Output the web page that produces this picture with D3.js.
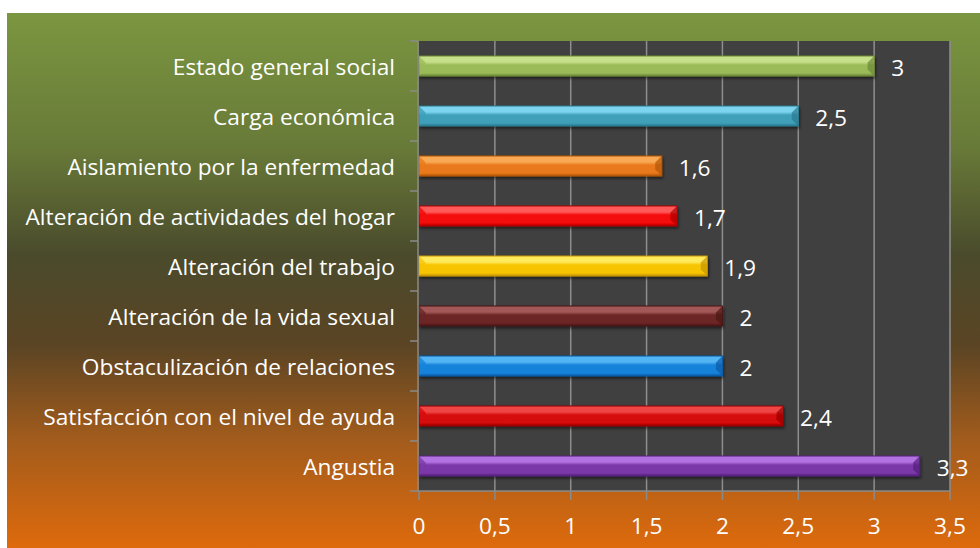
<!DOCTYPE html>
<html>
<head>
<meta charset="utf-8">
<script src="https://cdn.jsdelivr.net/npm/d3@7"></script>
<style>
  body { margin: 0; background: #fff; }
  svg { display: block; }
  text { font-family: "Open Sans", Lato, sans-serif; fill: #fff; }
</style>
</head>
<body>
<svg id="chart" width="980" height="548"></svg>
<script>
// data, top to bottom as in the chart
const categories = [
  "Estado general social",
  "Carga económica",
  "Aislamiento por la enfermedad",
  "Alteración de actividades del hogar",
  "Alteración del trabajo",
  "Alteración de la vida sexual",
  "Obstaculización de relaciones",
  "Satisfacción con el nivel de ayuda",
  "Angustia"
];
const values = [3, 2.5, 1.6, 1.7, 1.9, 2, 2, 2.4, 3.3];
const xTicks = [0, 0.5, 1, 1.5, 2, 2.5, 3, 3.5];
// [main, light, dark] per bar
const barColors = [
  ["#9bbb59", "#c6df8a", "#6c8834"],
  ["#3fa0ba", "#7bd4ee", "#2a788e"],
  ["#e8791c", "#f9a852", "#b35606"],
  ["#f40808", "#ff5a5a", "#ae0000"],
  ["#f6c400", "#ffe95c", "#c69400"],
  ["#6c2725", "#a25856", "#481513"],
  ["#1783da", "#52b5f4", "#0a5aa6"],
  ["#d60808", "#f04444", "#940000"],
  ["#7a38a8", "#b372e2", "#54207a"]
];

const fmt = v => String(v).replace(".", ",");

const svg = d3.select("#chart");
const margin = {left: 419, right: 30, top: 41, bottom: 57};
const W = 980, H = 548;
const fs = 22.7;

const defs = svg.append("defs");

// background gradient
const bg = defs.append("linearGradient").attr("id", "bg")
  .attr("x1", 0).attr("y1", 0).attr("x2", 0).attr("y2", 1);
[["0%", "#7b9640"], ["25%", "#687a38"], ["45%", "#4a4b2c"], ["62%", "#5a4424"],
 ["80%", "#a35c1c"], ["100%", "#de6a0c"]].forEach(s =>
  bg.append("stop").attr("offset", s[0]).attr("stop-color", s[1]));

const shadow = defs.append("filter").attr("id", "shadow")
  .attr("x", "-5%").attr("y", "-50%").attr("width", "110%").attr("height", "200%");
shadow.append("feDropShadow").attr("dx", 1).attr("dy", 2).attr("stdDeviation", 1.5)
  .attr("flood-color", "#000").attr("flood-opacity", 0.55);

svg.append("rect").attr("x", 7).attr("y", 13).attr("width", W - 7).attr("height", H - 13)
  .attr("fill", "url(#bg)");

const x = d3.scaleLinear().domain([0, 3.5]).range([margin.left, W - margin.right]);
const y = d3.scaleBand().domain(categories)
  .range([margin.top, H - margin.bottom])
  .paddingInner(0.6).paddingOuter(0.3);

// plot area
svg.append("rect")
  .attr("x", x(0)).attr("y", margin.top)
  .attr("width", x(3.5) - x(0)).attr("height", H - margin.bottom - margin.top)
  .attr("fill", "#404040");

// vertical gridlines
svg.append("g").selectAll("line").data(xTicks.slice(1)).join("line")
  .attr("x1", d => x(d)).attr("x2", d => x(d))
  .attr("y1", margin.top).attr("y2", H - margin.bottom)
  .attr("stroke", "#8e8e8e").attr("stroke-width", 1.5);

// bar gradients
barColors.forEach((c, i) => {
  const g = defs.append("linearGradient").attr("id", "bar" + i)
    .attr("x1", 0).attr("y1", 0).attr("x2", 0).attr("y2", 1);
  [["0%", c[1]], ["30%", c[1]], ["45%", c[0]], ["85%", c[0]], ["100%", c[2]]]
    .forEach(s => g.append("stop").attr("offset", s[0]).attr("stop-color", s[1]));
});

const bev = 6;
const bars = svg.append("g").selectAll("g").data(values).join("g")
  .attr("filter", "url(#shadow)");

bars.append("rect")
  .attr("x", x(0)).attr("y", (d, i) => y(categories[i]))
  .attr("width", d => x(d) - x(0)).attr("height", y.bandwidth())
  .attr("fill", (d, i) => `url(#bar${i})`)
  .attr("stroke", (d, i) => barColors[i][2]).attr("stroke-width", 1);

// bevelled ends
bars.append("path")
  .attr("d", (d, i) => {
    const x0 = x(0) + 0.5, y0 = y(categories[i]) + 0.5, h = y.bandwidth() - 1;
    return `M${x0},${y0}L${x0 + bev},${y0 + bev}L${x0 + bev},${y0 + h - bev}L${x0},${y0 + h}Z`;
  })
  .attr("fill", (d, i) => barColors[i][0]).attr("opacity", 0.8);
bars.append("path")
  .attr("d", (d, i) => {
    const x1 = x(d) - 0.5, y0 = y(categories[i]) + 0.5, h = y.bandwidth() - 1;
    return `M${x1},${y0}L${x1 - bev},${y0 + bev}L${x1 - bev},${y0 + h - bev}L${x1},${y0 + h}Z`;
  })
  .attr("fill", (d, i) => barColors[i][2]).attr("opacity", 0.7);

// value labels
svg.append("g").selectAll("text").data(values).join("text")
  .attr("x", d => x(d) + 17)
  .attr("y", (d, i) => y(categories[i]) + y.bandwidth() / 2 + 2)
  .attr("dy", "0.35em")
  .attr("font-size", fs)
  .text(d => fmt(d));

// y axis
const yAxisG = svg.append("g");
yAxisG.append("line")
  .attr("x1", x(0) - 1).attr("x2", x(0) - 1)
  .attr("y1", margin.top).attr("y2", H - margin.bottom)
  .attr("stroke", "#8a8a8a").attr("stroke-width", 1.5);
const yEdges = categories.map(c => y(c) - y.step() * 0.3).concat([H - margin.bottom]);
yAxisG.selectAll("line.tick").data(yEdges).join("line").attr("class", "tick")
  .attr("x1", x(0) - 9).attr("x2", x(0) - 1)
  .attr("y1", d => d).attr("y2", d => d)
  .attr("stroke", "#8a8a8a").attr("stroke-width", 1.5);
yAxisG.selectAll("text").data(categories).join("text")
  .attr("x", x(0) - 24)
  .attr("y", d => y(d) + y.bandwidth() / 2 + 1)
  .attr("dy", "0.35em")
  .attr("text-anchor", "end")
  .attr("font-size", fs)
  .text(d => d);

// x axis
const xAxisG = svg.append("g");
xAxisG.append("line")
  .attr("x1", x(0) - 1).attr("x2", x(3.5))
  .attr("y1", H - margin.bottom).attr("y2", H - margin.bottom)
  .attr("stroke", "#8a8a8a").attr("stroke-width", 1.5);
xAxisG.selectAll("line.tick").data(xTicks).join("line").attr("class", "tick")
  .attr("x1", d => x(d)).attr("x2", d => x(d))
  .attr("y1", H - margin.bottom).attr("y2", H - margin.bottom + 9)
  .attr("stroke", "#8a8a8a").attr("stroke-width", 1.5);
xAxisG.selectAll("text").data(xTicks).join("text")
  .attr("x", d => x(d))
  .attr("y", H - margin.bottom + 35)
  .attr("dy", "0.35em")
  .attr("text-anchor", "middle")
  .attr("font-size", fs)
  .text(d => fmt(d));
</script>
</body>
</html>
